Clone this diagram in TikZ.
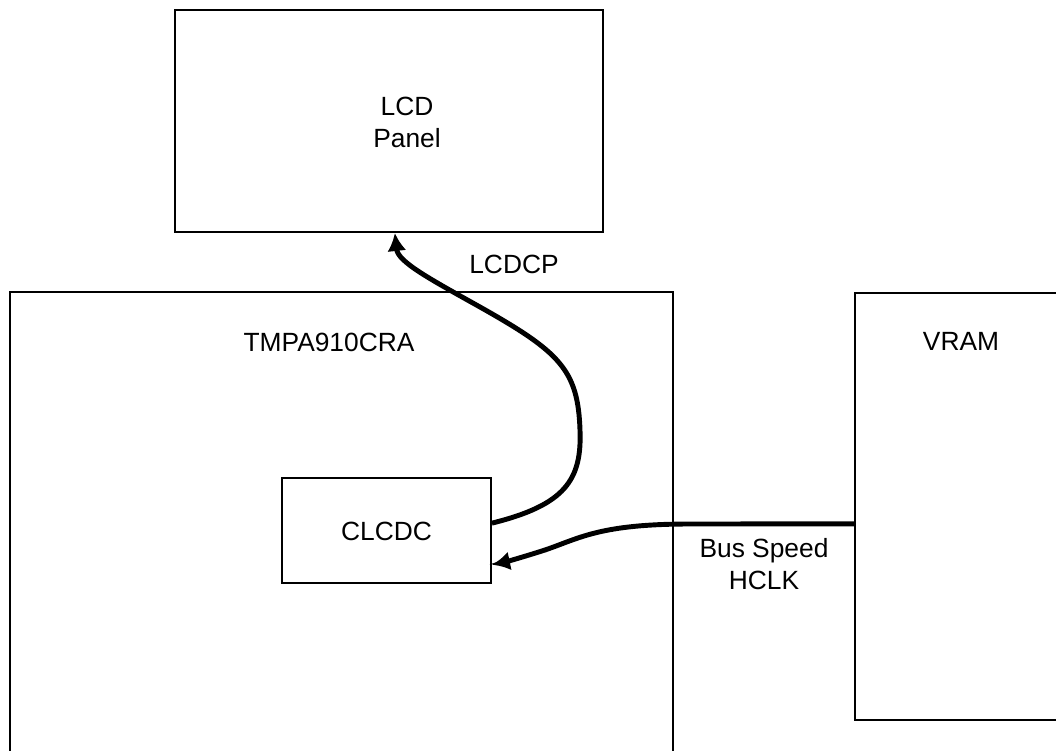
\documentclass[tikz,border=0pt]{standalone}
\usepackage{fontspec}
\setmainfont{Liberation Sans}
\usetikzlibrary{arrows.meta}
\tikzset{
  block/.style={rectangle,draw=black,line width=1.1pt,inner sep=0pt},
  caption/.style={font=\fontsize{15}{18.5}\selectfont,align=center,inner sep=0pt},
  bus/.style={-{Latex[length=3.6mm,width=3.8mm]},draw=black,line width=2.8pt},
}

\begin{document}
\begin{tikzpicture}[x=0.02cm,y=-0.02cm]
  \useasboundingbox (0,0) rectangle (1056,751);
  \clip (0,0) rectangle (1056,751);
  % blocks
  \node[block,minimum width=8.56cm,minimum height=4.44cm] (lcd) at (389,121) {};
  \node[block,minimum width=13.26cm,minimum height=10.16cm] (tmpa) at (341.5,546) {};
  \node[block,minimum width=4.9cm,minimum height=8.54cm] (vram) at (977.5,506.5) {};
  \node[block,minimum width=4.18cm,minimum height=2.1cm] (clcdc) at (386.5,530.5) {};
  % texts
  \node[caption] (lcdtext) at (407,122.5) {LCD\\Panel};
  \node[caption] (tmpatext) at (329,342) {TMPA910CRA};
  \node[caption] (vramtext) at (961,341) {VRAM};
  \node[caption] (clcdctext) at (386.5,531) {CLCDC};
  \node[caption] (lcdcp) at (514,264.5) {LCDCP};
  \node[caption] (hclk) at (764,564) {Bus Speed\\HCLK};
  % connections
  \draw[bus] (clcdc.4) .. controls (565,505) and (582,480) .. (580,430)
    .. controls (578,370) and (560,352) .. (480,307)
    .. controls (430,279) and (398,262) .. (lcd.-87);
  \draw[bus] (vram.188) -- (690,524) .. controls (600,524) and (580,538) .. (545,550)
    .. controls (520,558) and (505,562) .. (clcdc.-18);
\end{tikzpicture}
\end{document}
